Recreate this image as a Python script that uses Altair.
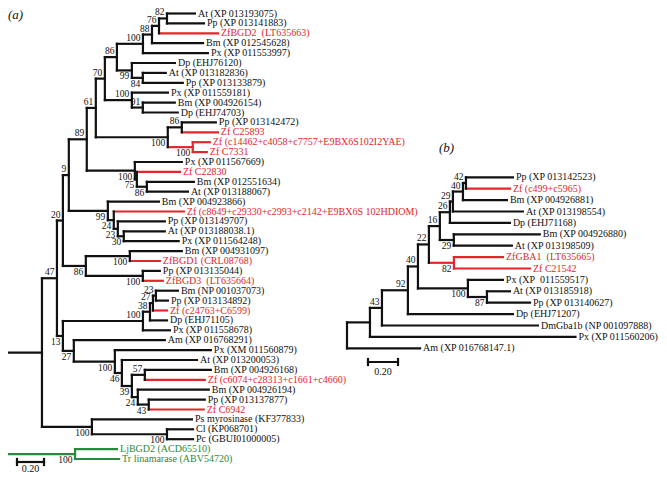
import altair as alt
import pandas as pd

# ---------------- data ----------------
LEAVES_A = [
    "At (XP 013193075)", "Pp (XP 013141883)", "ZfBGD2\u00a0 (LT635663)", "Bm (XP 012545628)",
    "Px (XP 011553997)", "Dp (EHJ76120)", "At (XP 013182836)", "Pp (XP 013133879)",
    "Px (XP 011559181)", "Bm (XP 004926154)", "Dp (EHJ74703)", "Pp (XP 013142472)",
    "Zf C25893", "Zf (c14462+c4058+c7757+E9BX6S102I2YAE)", "Zf C7331", "Px (XP 011567669)",
    "Zf C22830", "Bm (XP 012551634)", "At (XP 013188067)", "Bm (XP 004923866)",
    "Zf (c8649+c29330+c2993+c2142+E9BX6S 102HDIOM)", "Pp (XP 013149707)",
    "At (XP 013188038.1)", "Px (XP 011564248)", "Bm (XP 004931097)", "ZfBGD1 (CRL08768)",
    "Pp (XP 013135044)", "ZfBGD3\u00a0 (LT635664)", "Bm (NP 001037073)", "Pp (XP 013134892)",
    "Zf (c24763+C6599)", "Dp (EHJ71105)", "Px (XP 011558678)", "Am (XP 016768291)",
    "Px (XM 011560879)", "At (XP 013200053)", "Bm (XP 004926168)",
    "Zf (c6074+c28313+c1661+c4660)", "Bm (XP 004926194)", "Pp (XP 013137877)", "Zf C6942",
    "Ps myrosinase (KF377833)", "Cl (KP068701)", "Pc (GBUI01000005)", "LjBGD2 (ACD65510)",
    "Tr linamarase (ABV54720)",
]
GROUP_A = list("kkrkkkkkkkkkrrrkrkkkrkkkkrkrkkrkkkkkkrkkrkkkgg")

LEAVES_B = [
    "Pp (XP 013142523)", "Zf (c499+c5965)", "Bm (XP 004926881)", "At (XP 013198554)",
    "Dp (EHJ71168)", "Bm (XP 004926880)", "At (XP 013198509)", "ZfGBA1\u00a0 (LT635665)",
    "Zf C21542", "Px (XP\u00a0 011559517)", "At (XP 013185918)", "Pp (XP 013140627)",
    "Dp (EHJ71207)", "DmGba1b (NP 001097888)", "Px (XP 011560206)", "Am (XP 016768147.1)",
]
GROUP_B = list("krkkkkkrrkkkkkkk")

# Newick trees: branch lengths (substitutions/site); internal labels = bootstrap_position (a=above, b=below)
TREE_A = (
    "(((((((((((((a0:0.207,a1:0.274)82_a:0.059,a2:0.437)76_a:0.052,a3:0.378)88_a:0.067,"
    "a4:0.481)100_a:0.193,(a5:0.319,(a6:0.170,a7:0.296)84_b:0.081)99_b:0.111)86_a:0.089,"
    "(a8:0.267,(a9:0.237,a10:0.259)91_a:0.081)100_a:0.200)70_a:0.067,"
    "((a11:0.252,a12:0.267)86_a:0.104,(a13:0.126,a14:0.104)100_b:0.185)100_b:0.533)61_a:0.067,"
    "(a15:0.348,(a16:0.319,(a17:0.348,a18:0.304)86_b:0.074)75_b:0.015)100_b:0.356)89_a:0.133,"
    "(a19:0.378,(a20:0.519,(a21:0.348,(a22:0.304,a23:0.407)30_b:0.044)23_b:0.030)24_b:0.044)99_b:0.289)9_a:0.044,"
    "((a24:0.385,a25:0.222)100_b:0.326,(a26:0.126,a27:0.148)100_b:0.422)86_b:0.170)20_a:0.044,"
    "(((((a28:0.163,a29:0.089)23_a:0.022,a30:0.104)27_a:0.022,a31:0.126)38_a:0.052,a32:0.200)100_a:0.593,"
    "(a33:0.674,(a34:0.711,(a35:0.556,((a36:0.489,a37:0.444)57_a:0.096,(a38:0.526,"
    "(a39:0.415,a40:0.407)43_b:0.081)24_b:0.044)39_b:0.074)46_b:0.052)100_b:0.304)27_b:0.081)13_b:0.044)47_a:0.111,"
    "(a41:0.741,(a42:0.193,a43:0.193)100_b:0.556)100_b:0.370):0.296,"
    "(a44:0.311,a45:0.326)100_b:0.541);"
)
TREE_B = (
    "(((((((((((b0:0.313,b1:0.293)42_a:0.020,b2:0.293)40_a:0.067,b3:0.467)29_a:0.020,"
    "b4:0.400)26_a:0.067,(b5:0.573,b6:0.387)29_b:0.093)16_a:0.073,(b7:0.327,b8:0.507)82_b:0.167)22_a:0.073,"
    "(b9:0.233,(b10:0.153,b11:0.287)87_b:0.127)100_b:0.333)40_a:0.067,b12:0.700)92_a:0.173,"
    "b13:1.040)43_a:0.080,b14:1.370):0.153,b15:0.487);"
)
SCALE_BAR = 0.20

PALETTE = {"k": "#111111", "r": "#e3262b", "g": "#2a8a3c"}
FONT = "Liberation Serif"


def parse_newick(s):
    s = s.strip().rstrip(";")
    pos = 0

    def node():
        nonlocal pos
        n = {"children": [], "name": "", "length": 0.0}
        if s[pos] == "(":
            pos += 1
            while True:
                n["children"].append(node())
                if s[pos] == ",":
                    pos += 1
                    continue
                if s[pos] == ")":
                    pos += 1
                    break
        start = pos
        while pos < len(s) and s[pos] not in ":,();":
            pos += 1
        n["name"] = s[start:pos]
        if pos < len(s) and s[pos] == ":":
            pos += 1
            start = pos
            while pos < len(s) and s[pos] not in ",();":
                pos += 1
            n["length"] = float(s[start:pos])
        return n

    return node()


def layout(tree, names, groups, x0, ppu, y0, dy):
    segs, tips, sups = [], [], []

    def walk(n, depth, px):
        x = x0 + depth * ppu
        if not n["children"]:
            i = int(n["name"][1:])
            y = y0 + i * dy
            g = groups[i]
            tips.append(dict(x=x + 3, y=y, text=names[i], color=PALETTE[g]))
        else:
            res = [walk(c, depth + c["length"], x) for c in n["children"]]
            ys = [r[0] for r in res]
            gs = [r[1] for r in res]
            y = (ys[0] + ys[-1]) / 2
            g = gs[0] if all(v == gs[0] for v in gs) else "k"
            segs.append(dict(x=x, x2=x, y=ys[0], y2=ys[-1], color=PALETTE[g]))
            if n["name"]:
                val, where = n["name"].split("_")
                sups.append(dict(x=x - 2.5, y=y + (6 if where == "b" else -6), text=val))
        if px is not None:
            segs.append(dict(x=px, x2=x, y=y, y2=y, color=PALETTE[g]))
        return y, g

    walk(tree, 0.0, None)
    return segs, tips, sups


sa, ta, pa = layout(parse_newick(TREE_A), LEAVES_A, GROUP_A, 2, 135, 13.5, 9.9)
sb, tb, pb = layout(parse_newick(TREE_B), LEAVES_B, GROUP_B, 347, 150, 177.3, 11.4)

segs = sa + sb
other_text = []
# scale bars: (left x, bar y, px per unit, label offset)
for bx, by, ppu, off in [(17, 462, 135, 7), (368, 362, 150, 10)]:
    L = SCALE_BAR * ppu
    segs.append(dict(x=bx, x2=bx + L, y=by, y2=by, color=PALETTE["k"]))
    segs.append(dict(x=bx, x2=bx, y=by - 3, y2=by + 3, color=PALETTE["k"]))
    segs.append(dict(x=bx + L, x2=bx + L, y=by - 3, y2=by + 3, color=PALETTE["k"]))
    other_text.append(dict(x=bx + L / 2, y=by + off, text=f"{SCALE_BAR:.2f}"))

seg_df = pd.DataFrame(segs)
tip_df = pd.DataFrame(ta + tb)
sup_df = pd.DataFrame(pa + pb)
bar_df = pd.DataFrame(other_text)
panel_df = pd.DataFrame([dict(x=8, y=15, text="(a)"), dict(x=439, y=148, text="(b)")])

xs = alt.Scale(domain=[8, 659], nice=False, zero=False)
ys = alt.Scale(domain=[8, 473], nice=False, zero=False, reverse=True)


def XY():
    return dict(x=alt.X("x:Q", scale=xs, axis=None), y=alt.Y("y:Q", scale=ys, axis=None))


rules = alt.Chart(seg_df).mark_rule(strokeWidth=2.2, strokeCap="square").encode(
    x=alt.X("x:Q", scale=xs, axis=None), x2="x2:Q",
    y=alt.Y("y:Q", scale=ys, axis=None), y2="y2:Q",
    color=alt.Color("color:N", scale=None),
)
tips = alt.Chart(tip_df).mark_text(align="left", baseline="middle", font=FONT, fontSize=10).encode(
    **XY(), text="text:N", color=alt.Color("color:N", scale=None)
)
sups = alt.Chart(sup_df).mark_text(align="right", baseline="middle", font=FONT, fontSize=9.5, color="#111111").encode(
    **XY(), text="text:N"
)
bars = alt.Chart(bar_df).mark_text(align="center", baseline="middle", font=FONT, fontSize=10, color="#111111").encode(
    **XY(), text="text:N"
)
panels = alt.Chart(panel_df).mark_text(align="left", baseline="middle", font=FONT, fontSize=13, fontStyle="italic", color="#111111").encode(
    **XY(), text="text:N"
)

chart = alt.layer(rules, tips, sups, bars, panels).properties(
    width=651, height=465, padding=0, autosize="none"
).configure_view(stroke=None)

chart.save("out.html", embed_options={"renderer": "svg", "actions": False})
